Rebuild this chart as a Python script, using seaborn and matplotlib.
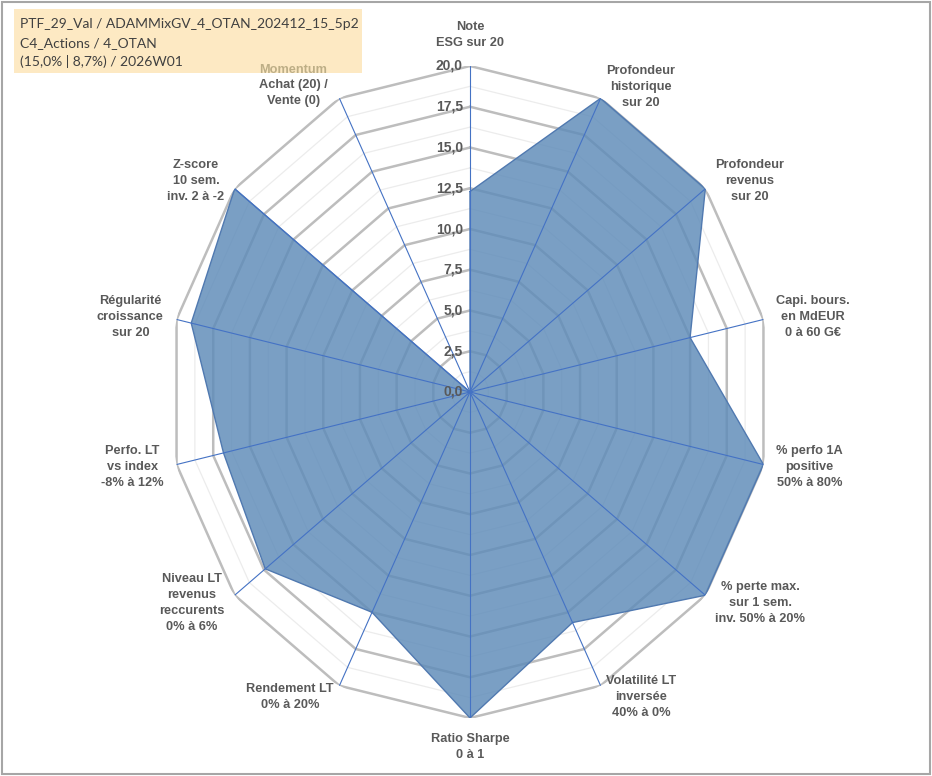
import numpy as np
import pandas as pd
import matplotlib
matplotlib.use("Agg")
import matplotlib.pyplot as plt
from matplotlib.patches import Rectangle
import seaborn as sns

# Axes of the radar (clockwise from top)
labels = [
    "Note\nESG sur 20",
    "Profondeur\nhistorique\nsur 20",
    "Profondeur\nrevenus\nsur 20",
    "Capi. bours.\nen MdEUR\n0 à 60 G€",
    "% perfo 1A\npositive\n50% à 80%",
    "% perte max.\nsur 1 sem.\ninv. 50% à 20%",
    "Volatilité LT\ninversée\n40% à 0%",
    "Ratio Sharpe\n0 à 1",
    "Rendement LT\n0% à 20%",
    "Niveau LT\nrevenus\nreccurents\n0% à 6%",
    "Perfo. LT\nvs index\n-8% à 12%",
    "Régularité\ncroissance\nsur 20",
    "Z-score\n10 sem.\ninv. 2 à -2",
    "Achat (20) /\nVente (0)",
]
momentum_title = "Momentum"
scores = [12.3, 20, 20, 15.0, 20, 20, 15.7, 20, 15.0, 17.4, 16.8, 19.0, 20, 0]
ring_values = [0, 2.5, 5, 7.5, 10, 12.5, 15, 17.5, 20]
ring_labels = ["0,0", "2,5", "5,0", "7,5", "10,0", "12,5", "15,0", "17,5", "20,0"]
info_lines = [
    "PTF_29_Val / ADAMMixGV_4_OTAN_202412_15_5p2",
    "C4_Actions / 4_OTAN",
    "(15,0% | 8,7%) / 2026W01",
]

sns.set_style("white")
plt.rcParams["font.family"] = ["Liberation Sans", "DejaVu Sans"]

n = len(labels)
theta = np.linspace(0, 2 * np.pi, n, endpoint=False)
theta_closed = np.append(theta, 2 * np.pi)
df = pd.DataFrame({"theta": theta_closed, "score": scores + scores[:1]})

fig = plt.figure(figsize=(9.32, 7.76), dpi=100)

# info box (behind the radar axes)
fig.patches.append(Rectangle((14 / 932, 1 - 73 / 776), 348 / 932, 64 / 776,
                             transform=fig.transFigure, facecolor="#fde9c3",
                             edgecolor="none", zorder=0))
for j, line in enumerate(info_lines):
    fig.text(20 / 932, 1 - (24 + 19 * j) / 776, line, ha="left", va="center",
             fontsize=10, color="#404040", family=["Lato", "DejaVu Sans"], zorder=1)

ax = fig.add_axes([169 / 932, 58 / 776, 602 / 932, 652 / 776], projection="polar")
ax.set_zorder(3)
ax.set_theta_zero_location("N")
ax.set_theta_direction(-1)
ax.set_aspect("auto")
ax.set_ylim(0, 20)
ax.grid(False)
ax.spines["polar"].set_visible(False)
ax.set_xticks([])
ax.set_yticks([])
ax.patch.set_alpha(0)

# polygon rings (minor then major)
for r in np.arange(1.25, 20, 2.5):
    ax.plot(theta_closed, [r] * (n + 1), color="#ececec", lw=0.9, zorder=1)
for r in ring_values[1:]:
    ax.plot(theta_closed, [r] * (n + 1), color="#bdbdbd", lw=1.8, zorder=1)

# filled series
ax.fill(df["theta"], df["score"], color="#5f8cb9", alpha=0.83, lw=0, zorder=2)
sns.lineplot(data=df, x="theta", y="score", sort=False, estimator=None,
             color="#5079b0", lw=1.0, ax=ax, zorder=3)
ax.set_xlabel("")
ax.set_ylabel("")

# spokes
for t in theta:
    ax.plot([t, t], [0, 20], color="#4472c4", lw=0.8, zorder=4)

# ring value labels
for r, lab in zip(ring_values, ring_labels):
    ax.annotate(lab, xy=(0, r), xytext=(-7, 0), textcoords="offset pixels",
                ha="right", va="center", fontsize=10, fontweight="bold",
                color="#595959", zorder=5)

# axis labels
gap = 13
for i, (t, lab) in enumerate(zip(theta, labels)):
    dx, dy = np.sin(t), np.cos(t)
    if i == 13:
        ax.annotate(lab, xy=(t, 20), xytext=(-46, 19), textcoords="offset pixels",
                    ha="center", va="top", fontsize=9.2, fontweight="bold",
                    color="#595959", linespacing=1.45, annotation_clip=False)
        ax.annotate(momentum_title, xy=(t, 20), xytext=(-46, 22),
                    textcoords="offset pixels", ha="center", va="bottom",
                    fontsize=9.2, fontweight="bold", color="#bdae86",
                    annotation_clip=False)
        continue
    if abs(dx) < 0.1:
        ha = "center"
        va = "bottom" if dy > 0 else "top"
        off = (0, 17 if dy > 0 else -15)
    else:
        ha = "left" if dx > 0 else "right"
        va = "center"
        off = (dx * gap, dy * gap)
    ax.annotate(lab, xy=(t, 20), xytext=off, textcoords="offset pixels",
                ha=ha, va=va, fontsize=9.2, fontweight="bold", color="#595959",
                multialignment="center", linespacing=1.45)

# frame
fig.patches.append(Rectangle((0.002, 0.003), 0.996, 0.994, transform=fig.transFigure,
                             fill=False, edgecolor="#a6a6a6", lw=1.5))

fig.savefig("out.png", dpi=100)
